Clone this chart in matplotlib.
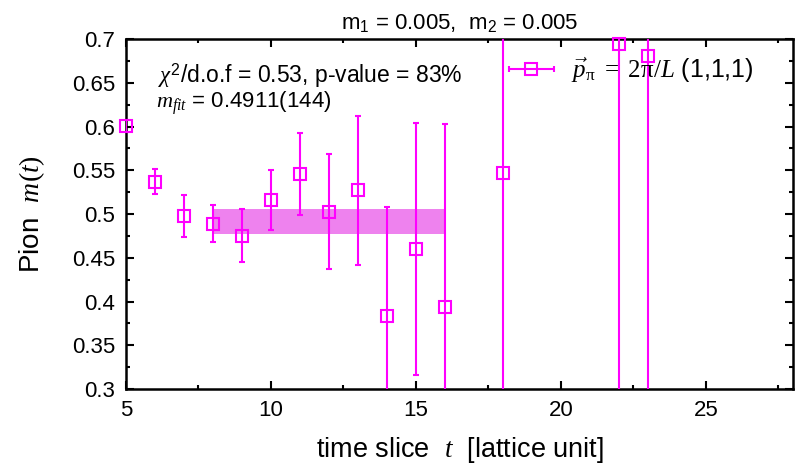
import matplotlib
matplotlib.use("Agg")
import matplotlib.pyplot as plt
from matplotlib.legend_handler import HandlerErrorbar
import numpy as np

# data
t = [5, 6, 7, 8, 9, 10, 11, 12, 13, 14, 15, 16, 18, 22, 23]
m = [0.6006, 0.537, 0.498, 0.489, 0.4752, 0.516, 0.5457, 0.5026, 0.527,
     0.3838, 0.460, 0.394, 0.5465, 0.694, 0.6806]
err = [0.007, 0.014, 0.024, 0.021, 0.030, 0.034, 0.047, 0.066, 0.085,
       0.124, 0.144, 0.209, 0.50, 0.60, 0.60]
fit_range = [8, 16]
m_fit = 0.4911
m_fit_err = 0.0144

plt.rcParams['font.family'] = ['Liberation Sans', 'DejaVu Sans']
plt.rcParams['mathtext.fontset'] = 'custom'
plt.rcParams['mathtext.rm'] = 'Liberation Serif'
plt.rcParams['mathtext.it'] = 'Liberation Serif:italic'
plt.rcParams['mathtext.sf'] = 'Liberation Sans'

mag = '#ff00ff'
band = '#ee82ee'

fig = plt.figure(figsize=(7.98, 4.71), dpi=100)
ax = fig.add_axes([126/798, 1-389/471, (793-126)/798, (389-39)/471])

ax.fill_between(fit_range, m_fit - m_fit_err, m_fit + m_fit_err,
                color=band, lw=0, zorder=1)
ax.errorbar(t, m, yerr=err, fmt='none', color=mag,
            elinewidth=1.5, capsize=2.5, capthick=1.5, zorder=3)
ax.plot(t, m, 's', mfc='none', mec=mag, ms=9, mew=1.5, zorder=4,
        clip_on=False)

# legend proxy (horizontal error bar)
h = ax.errorbar([np.nan], [np.nan], xerr=[1], fmt='s', mfc='none', mec=mag,
                color=mag, ms=8, mew=1.5, elinewidth=1.5, capsize=2.5,
                capthick=1.5)
leg = ax.legend([h], [r'$\vec{p}_{\mathrm{\pi}}\ =\ \mathrm{2\pi}/L$ (1,1,1)'],
                loc='center left', bbox_to_anchor=(0.57, 0.911),
                frameon=False, fontsize=18, borderpad=0, borderaxespad=0,
                handlelength=2.0, handletextpad=0.6,
                handler_map={type(h): HandlerErrorbar(xerr_size=0.9)})

ax.set_xlim(5, 28)
ax.set_ylim(0.3, 0.7)
ax.set_xticks([5, 10, 15, 20, 25])
ax.set_xticks([7.5, 12.5, 17.5, 22.5, 27.5], minor=True)
ax.set_yticks(np.arange(0.3, 0.701, 0.05))
ax.set_yticks(np.arange(0.325, 0.7, 0.05), minor=True)
ax.set_yticklabels(['0.3', '0.35', '0.4', '0.45', '0.5', '0.55', '0.6', '0.65', '0.7'])
ax.tick_params(which='both', direction='in', top=True, right=True,
               labelsize=16, width=1.5)
ax.tick_params(which='major', length=6, pad=8)
ax.tick_params(which='minor', length=3)
for s in ax.spines.values():
    s.set_linewidth(1.8)

ax.set_xlabel(r'time slice  $t$  [lattice unit]', fontsize=19.5, labelpad=10)
ax.set_ylabel(r'Pion  $m(t)$', fontsize=20, labelpad=18)
ax.set_title(r'm$_\mathsf{1}$ = 0.005,  m$_\mathsf{2}$ = 0.005', fontsize=16, pad=7)

ax.text(0.048, 0.895, r'$\chi^\mathsf{2}$/d.o.f = 0.53, p-value = 83%',
        transform=ax.transAxes, fontsize=16.5, va='center', ha='left')
ax.text(0.045, 0.817, r'$m_{fit}$ = 0.4911(144)',
        transform=ax.transAxes, fontsize=16, va='center', ha='left')

fig.savefig('out.png', dpi=100)
